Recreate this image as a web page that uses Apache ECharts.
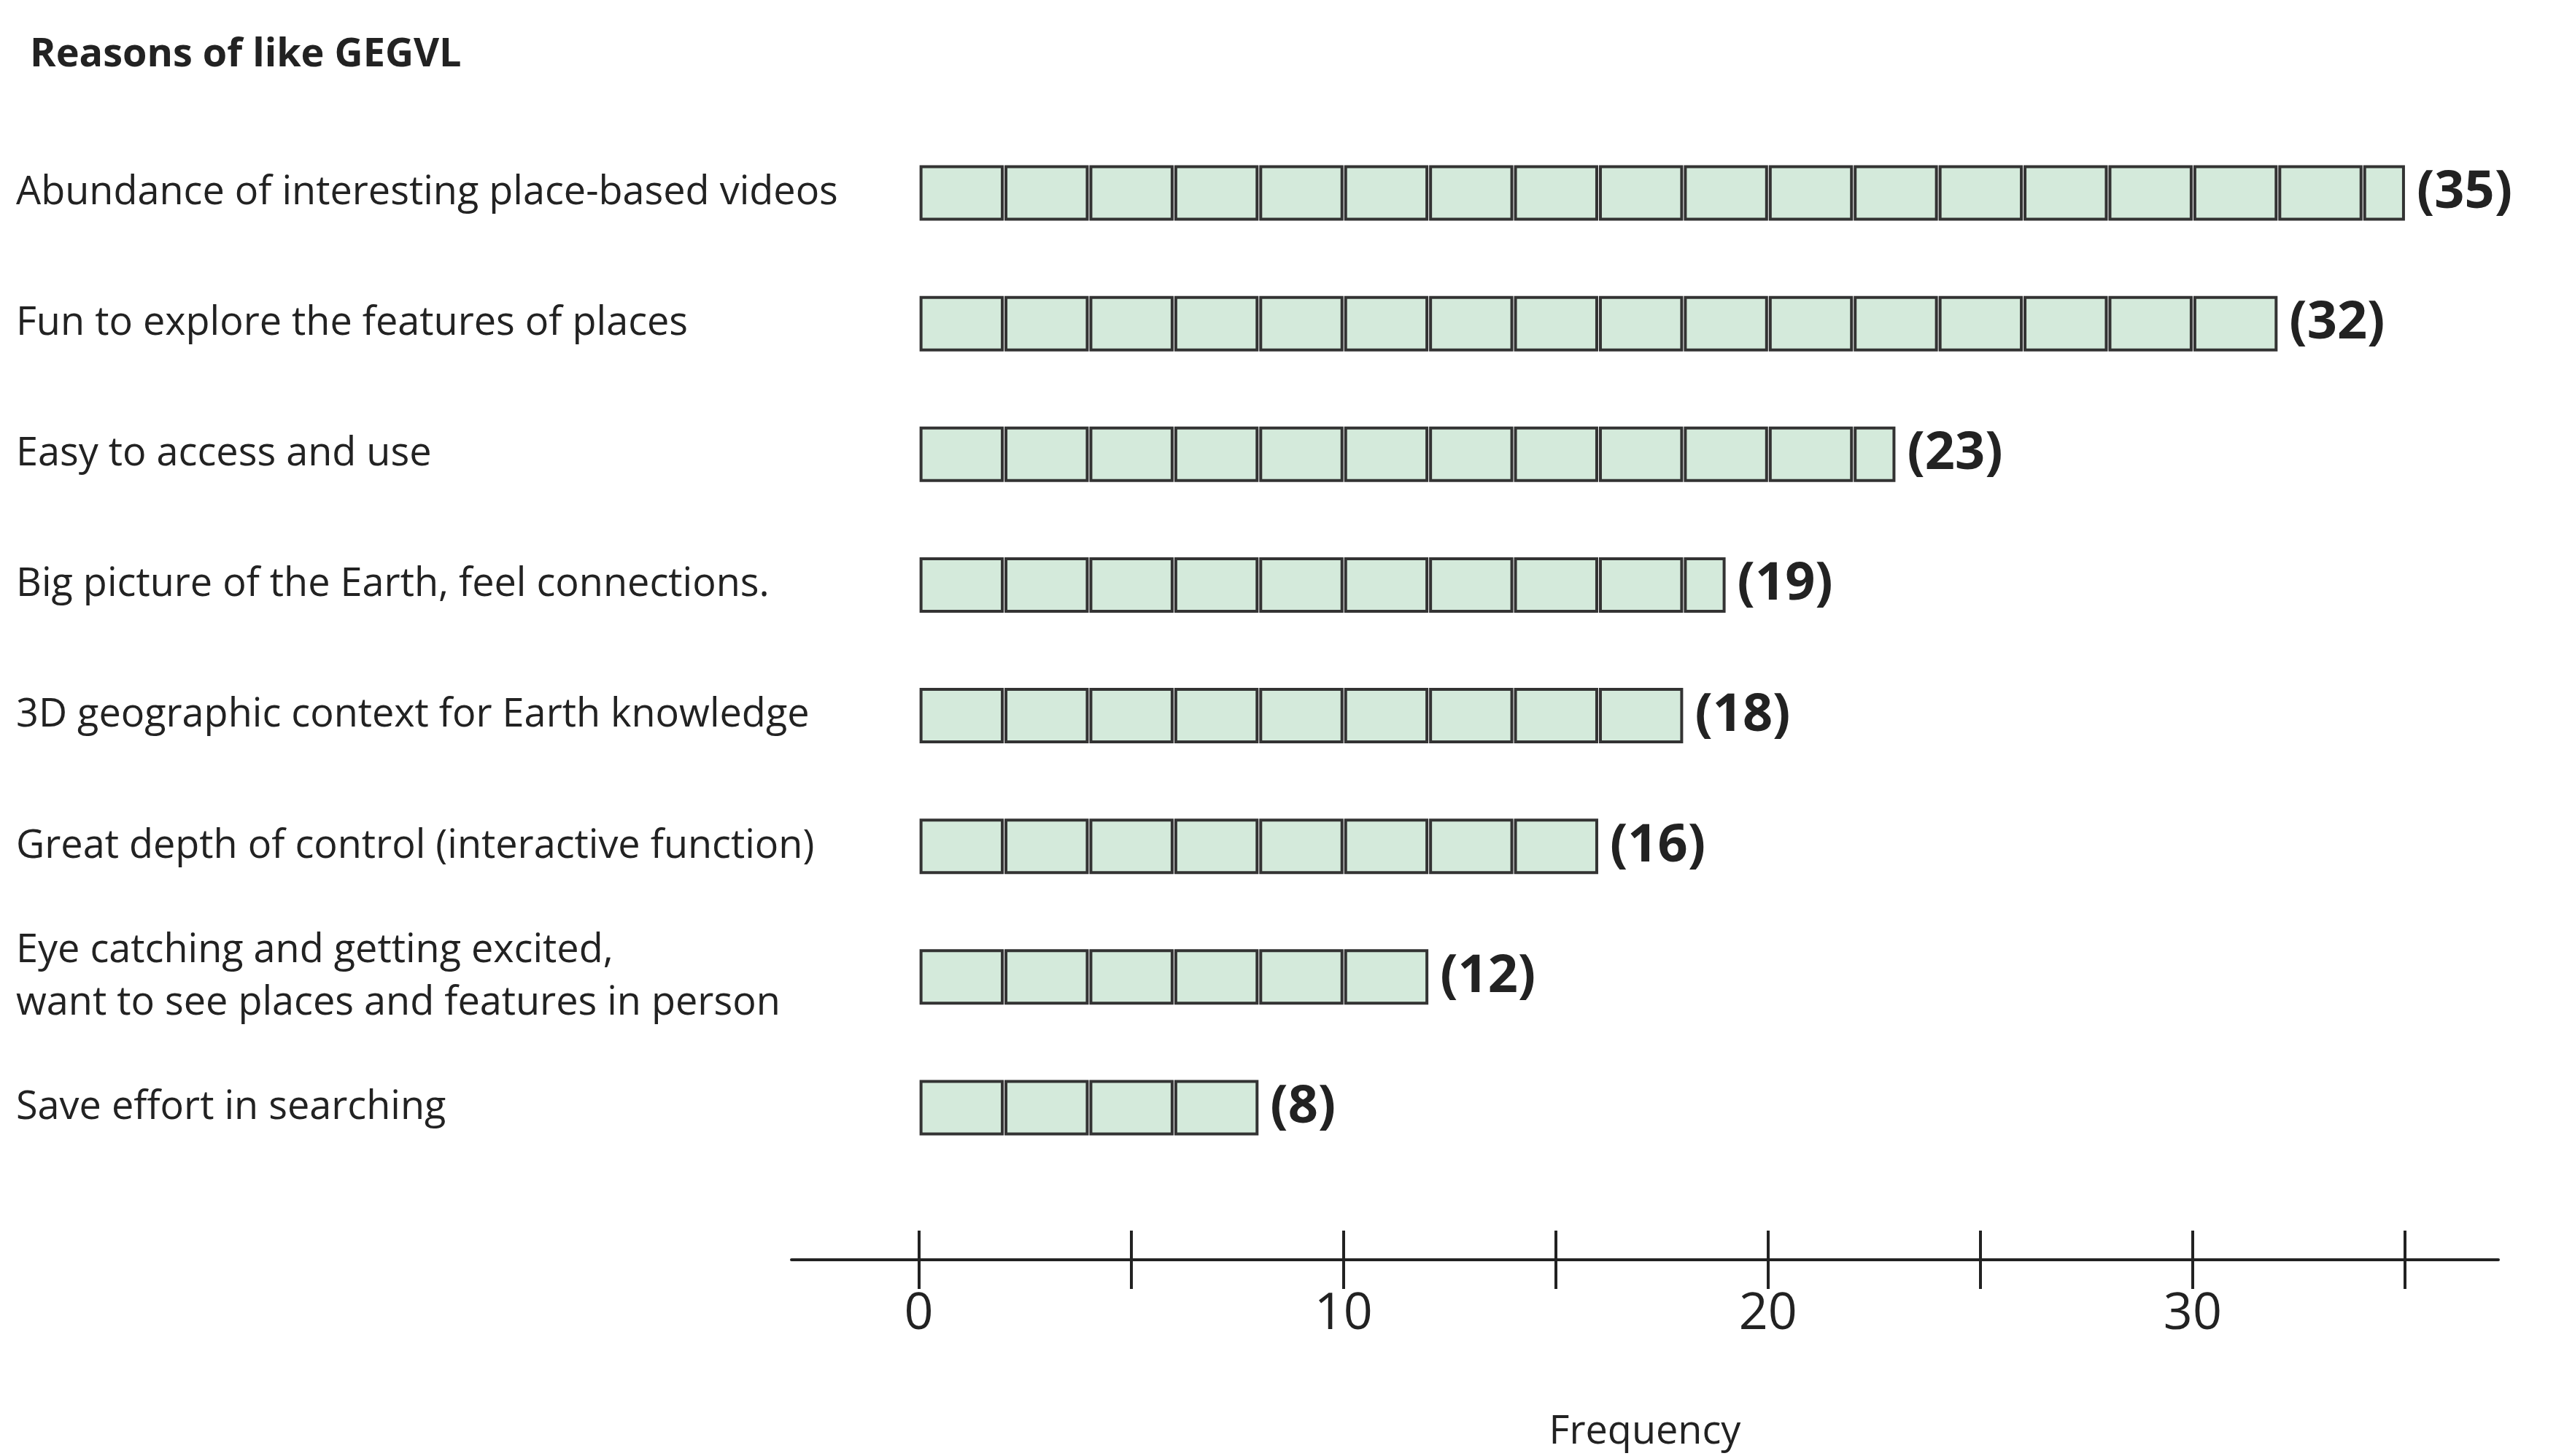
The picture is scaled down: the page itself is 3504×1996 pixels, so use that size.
<!DOCTYPE html>
<html><head><meta charset="utf-8">
<script src="https://cdn.jsdelivr.net/npm/echarts@6/dist/echarts.min.js"></script>
<style>html,body{margin:0;padding:0;background:#fff}#c{width:3504px;height:1996px}</style>
</head><body><div id="c"></div>
<script>
const categories = [
  "Abundance of interesting place-based videos",
  "Fun to explore the features of places",
  "Easy to access and use",
  "Big picture of the Earth, feel connections.",
  "3D geographic context for Earth knowledge",
  "Great depth of control (interactive function)",
  "Eye catching and getting excited,\nwant to see places and features in person",
  "Save effort in searching"
];
const values = [35, 32, 23, 19, 18, 16, 12, 8];
const tickValues = [0, 5, 10, 15, 20, 25, 30, 35];
const labelValues = [0, 10, 20, 30];
const blockSize = 2;

const chart = echarts.init(document.getElementById('c'));
const fontFamily = '"Open Sans", "Noto Sans", sans-serif';
chart.setOption({
  animation: false,
  title: { text: 'Reasons of like GEGVL', left: 36, top: 44,
    textStyle: { fontSize: 54, fontWeight: 'bold', color: '#222', fontFamily } },
  grid: { left: 1085, width: 2340, top: 175, bottom: 383 },
  xAxis: [{
    type: 'value', min: -3, max: 37.2, position: 'bottom', offset: 119,
    axisLine: { show: true, lineStyle: { color: '#222', width: 4 } },
    axisTick: { show: true, customValues: tickValues, length: 40, lineStyle: { color: '#222', width: 4 } },
    axisLabel: { customValues: labelValues, fontSize: 70, color: '#222', margin: 40, fontFamily },
    splitLine: { show: false },
    name: 'Frequency', nameLocation: 'middle', nameGap: 210,
    nameTextStyle: { fontSize: 54, color: '#222', fontFamily }
  }, {
    type: 'value', min: -3, max: 37.2, position: 'bottom', offset: 119,
    axisLine: { show: false },
    axisTick: { show: true, inside: true, customValues: tickValues, length: 40, lineStyle: { color: '#222', width: 4 } },
    axisLabel: { show: false }, splitLine: { show: false }
  }],
  yAxis: {
    type: 'category', data: categories, inverse: true,
    axisLine: { show: false }, axisTick: { show: false },
    axisLabel: { align: 'left', margin: 1063, fontSize: 54, lineHeight: 72, color: '#222', fontFamily }
  },
  series: [{
    type: 'custom',
    data: values.map((v, i) => [v, i]),
    renderItem: function (params, api) {
      const v = api.value(0), idx = api.value(1);
      const h = 72;
      const children = [];
      for (let s = 0; s < v; s += blockSize) {
        const e = Math.min(s + blockSize, v);
        const p0 = api.coord([s, idx]), p1 = api.coord([e, idx]);
        children.push({ type: 'rect',
          shape: { x: p0[0] + 3, y: p0[1] - h / 2, width: p1[0] - p0[0] - 5, height: h },
          style: { fill: '#d4eadb', stroke: '#333', lineWidth: 4 } });
      }
      const pe = api.coord([v, idx]);
      children.push({ type: 'text', x: pe[0] + 16, y: pe[1],
        style: { text: '(' + v + ')', fontSize: 72, fontWeight: 'bold', fill: '#222',
          verticalAlign: 'middle', align: 'left', fontFamily } });
      return { type: 'group', children };
    }
  }]
});
</script></body></html>
